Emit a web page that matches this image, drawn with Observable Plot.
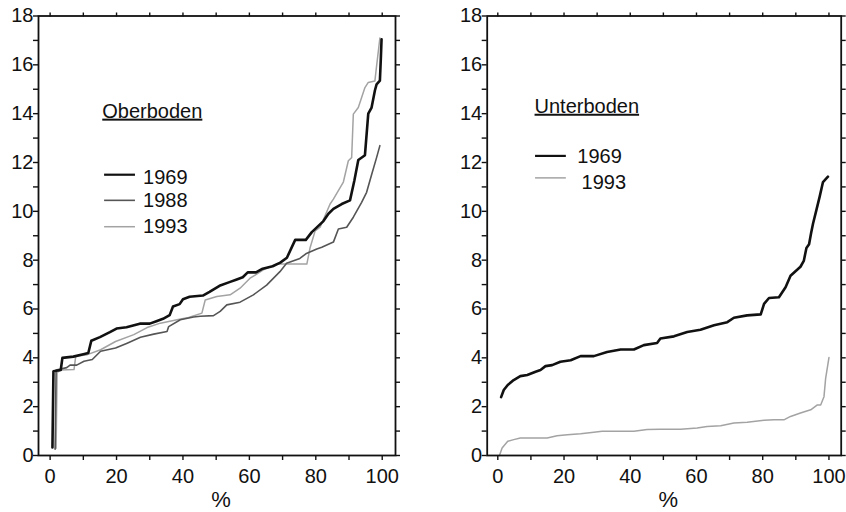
<!DOCTYPE html>
<html>
<head>
<meta charset="utf-8">
<script src="https://cdn.jsdelivr.net/npm/d3@7"></script>
<script src="https://cdn.jsdelivr.net/npm/@observablehq/plot@0.6"></script>
<style>
  body { margin: 0; background: #fff; }
  #charts { display: flex; width: 846px; }
</style>
</head>
<body>
<div id="charts"></div>
<script>
// Cumulative distributions (value vs. percent of samples)

// Oberboden
const oberPct1969 = [0.7, 1.0, 3.2, 3.7, 7, 10, 11.5, 12.4, 15, 18, 20, 23, 27, 30, 32, 34, 36, 37, 39, 40, 42, 46, 48, 51, 54, 56, 58, 59.5, 62, 64, 67, 69.3, 71.3, 73.8, 77, 78.8, 82.3, 83.8, 85.3, 87.8, 90.3, 91.6, 92.8, 94.8, 95.8, 96.8, 97.8, 98.3, 99.3, 99.6, 99.8];
const oberVal1969 = [0.33, 3.45, 3.5, 4.0, 4.05, 4.15, 4.2, 4.7, 4.85, 5.05, 5.2, 5.25, 5.4, 5.4, 5.5, 5.6, 5.75, 6.1, 6.2, 6.4, 6.5, 6.55, 6.7, 6.95, 7.1, 7.2, 7.3, 7.5, 7.5, 7.65, 7.75, 7.9, 8.1, 8.83, 8.83, 9.15, 9.6, 9.9, 10.1, 10.3, 10.45, 11.25, 12.1, 12.3, 14.0, 14.25, 14.95, 15.2, 15.35, 16.3, 17.05];

const oberPct1988 = [1.5, 1.8, 5, 6, 8, 10.2, 12.7, 15.2, 19.7, 23.2, 27.2, 31.2, 35.2, 35.7, 39.2, 43.2, 45.2, 49.2, 51.2, 53.2, 57.2, 61.2, 65.2, 69.2, 71.2, 75.2, 77, 80.3, 81.8, 85.3, 86.8, 89.3, 91.3, 93.8, 95.3, 96.8, 98.3, 99.3];
const oberVal1988 = [0.26, 3.5, 3.6, 3.7, 3.7, 3.86, 3.93, 4.27, 4.4, 4.6, 4.84, 4.97, 5.08, 5.28, 5.56, 5.67, 5.7, 5.73, 5.9, 6.17, 6.28, 6.58, 6.98, 7.53, 7.87, 8.07, 8.26, 8.46, 8.53, 8.74, 9.28, 9.35, 9.76, 10.37, 10.78, 11.5, 12.2, 12.69];

const oberPct1993 = [1.8, 2.1, 3.2, 7.2, 7.7, 11.2, 15.2, 19.7, 25.2, 29.2, 33.2, 38.2, 41.7, 45.7, 46.7, 50.2, 54.2, 57.2, 60.2, 64.2, 68.3, 77.3, 78.3, 79.8, 81.3, 84.3, 85.3, 88.3, 89.8, 90.8, 91.3, 92.8, 94.8, 95.8, 97.8, 98.3, 99.3];
const oberVal1993 = [0.3, 3.4, 3.5, 3.52, 4.06, 4.13, 4.33, 4.67, 4.95, 5.24, 5.42, 5.56, 5.65, 5.83, 6.37, 6.51, 6.58, 6.85, 7.26, 7.6, 7.84, 7.84, 8.52, 9.2, 9.35, 10.3, 10.5, 11.2, 12.07, 12.2, 13.98, 14.25, 15.07, 15.28, 15.34, 15.95, 17.1];

// Unterboden
const unterPct1969 = [1.0, 1.8, 3.0, 4.8, 6.8, 8.9, 11.4, 12.9, 14.4, 16.4, 18.9, 22, 25, 29, 33, 37.1, 41.1, 44.1, 48.1, 49.1, 53.2, 57.2, 61.2, 65.3, 69.3, 71.3, 75.3, 79.4, 80.4, 81.9, 84.9, 86.9, 88.4, 91.4, 92.4, 93.2, 94.0, 94.6, 95.2, 96.2, 97.2, 98.2, 99.7];
const unterVal1969 = [2.39, 2.68, 2.89, 3.09, 3.25, 3.3, 3.43, 3.5, 3.66, 3.7, 3.84, 3.9, 4.07, 4.07, 4.24, 4.34, 4.34, 4.52, 4.61, 4.79, 4.88, 5.06, 5.15, 5.33, 5.46, 5.64, 5.74, 5.78, 6.21, 6.45, 6.48, 6.89, 7.36, 7.73, 7.97, 8.5, 8.65, 9.1, 9.5, 10.05, 10.6, 11.2, 11.42];

const unterPct1993 = [0.5, 1.3, 3, 4.8, 6.8, 9.9, 14.9, 17.9, 21, 25, 29, 31.5, 37.1, 41.1, 45.1, 49.1, 55.2, 60.2, 63.2, 67.3, 71.3, 75.3, 80.4, 83.4, 86.4, 88.4, 91.4, 94.5, 96.5, 97.5, 98.5, 99, 100];
const unterVal1993 = [0, 0.31, 0.58, 0.65, 0.72, 0.72, 0.72, 0.81, 0.85, 0.89, 0.95, 0.99, 0.99, 0.99, 1.06, 1.08, 1.08, 1.13, 1.19, 1.22, 1.33, 1.36, 1.44, 1.46, 1.46, 1.6, 1.74, 1.87, 2.07, 2.07, 2.41, 3.16, 4.01];

const xTicks = [0, 10, 20, 30, 40, 50, 60, 70, 80, 90, 100];
const yTicks = [0, 1, 2, 3, 4, 5, 6, 7, 8, 9, 10, 11, 12, 13, 14, 15, 16, 17, 18];

const lineStyle = {
  "1969": {stroke: "#111", strokeWidth: 2.6},
  "1988": {stroke: "#555", strokeWidth: 1.6},
  "1993": {stroke: "#a3a3a3", strokeWidth: 1.5}
};

function rows(year, pct, val) {
  return pct.map((p, i) => ({year, p, v: val[i]}));
}

function panel({title, series, xDomain, width, marginLeft, marginRight, titlePos, legend}) {
  const marks = [];
  for (const s of series) {
    marks.push(Plot.line(s.data, {x: "p", y: "v", ...lineStyle[s.year], strokeLinejoin: "round"}));
  }
  // legend: sample segment plus year label
  for (const e of legend) {
    marks.push(Plot.ruleY([e.y], {x1: e.x1, x2: e.x2, ...lineStyle[e.year], strokeWidth: Math.min(lineStyle[e.year].strokeWidth, 2.2)}));
    marks.push(Plot.text([e.year], {x: e.tx, y: e.ty, text: d => d, textAnchor: "start", fontSize: 20, fill: "#111"}));
  }
  marks.push(Plot.text([title], {x: titlePos[0], y: titlePos[1], text: d => d, textAnchor: "start", fontSize: 20, fill: "#111"}));

  marks.push(
    Plot.axisY({ticks: yTicks, tickFormat: d => d % 2 === 0 ? d : "", tickSize: 5, tickPadding: 0, label: null, strokeWidth: 1.4, fontSize: 20}),
    Plot.axisY({anchor: "right", ticks: yTicks, tickFormat: () => "", tickSize: 4, label: null, strokeWidth: 1.4}),
    Plot.axisX({ticks: xTicks, tickFormat: d => d % 20 === 0 ? d : "", tickSize: 5, tickPadding: 8, fontSize: 20, strokeWidth: 1.4, label: null}),
    Plot.axisX({anchor: "top", ticks: xTicks, tickFormat: () => "", tickSize: 4, label: null, strokeWidth: 1.4}),
    Plot.text(["%"], {frameAnchor: "bottom", dx: 4, dy: 51, text: d => d, fontSize: 22, fill: "#111"}),
    Plot.frame({stroke: "#111", strokeWidth: 1.8})
  );

  const svg = Plot.plot({
    width, height: 512,
    marginTop: 15.5, marginBottom: 57, marginLeft, marginRight,
    style: {fontFamily: "'Liberation Sans', Arial, sans-serif", fontSize: "20px", color: "#111", background: "#fff"},
    x: {domain: xDomain},
    y: {domain: [0, 18]},
    marks
  });
  d3.select(svg).selectAll("text").filter(function () { return this.textContent === title; })
    .style("text-decoration", "underline");
  return svg;
}

const host = document.getElementById("charts");

host.appendChild(panel({
  title: "Oberboden",
  series: [
    {year: "1993", data: rows("1993", oberPct1993, oberVal1993)},
    {year: "1988", data: rows("1988", oberPct1988, oberVal1988)},
    {year: "1969", data: rows("1969", oberPct1969, oberVal1969)}
  ],
  xDomain: [-3.5, 104],
  width: 423, marginLeft: 38, marginRight: 28,
  titlePos: [15.7, 14.1],
  legend: [
    {year: "1969", x1: 16.4, x2: 25.7, y: 11.5, tx: 28, ty: 11.4},
    {year: "1988", x1: 16.4, x2: 25.7, y: 10.45, tx: 28, ty: 10.43},
    {year: "1993", x1: 16.4, x2: 25.7, y: 9.37, tx: 28, ty: 9.37}
  ]
}));

host.appendChild(panel({
  title: "Unterboden",
  series: [
    {year: "1993", data: rows("1993", unterPct1993, unterVal1993)},
    {year: "1969", data: rows("1969", unterPct1969, unterVal1969)}
  ],
  xDomain: [-3.2, 103.7],
  width: 423, marginLeft: 63.7, marginRight: 5.3,
  titlePos: [11.1, 14.3],
  legend: [
    {year: "1969", x1: 11.4, x2: 20.7, y: 12.27, tx: 24.0, ty: 12.25},
    {year: "1993", x1: 11.4, x2: 20.7, y: 11.37, tx: 25.3, ty: 11.17}
  ]
}));
</script>
</body>
</html>
